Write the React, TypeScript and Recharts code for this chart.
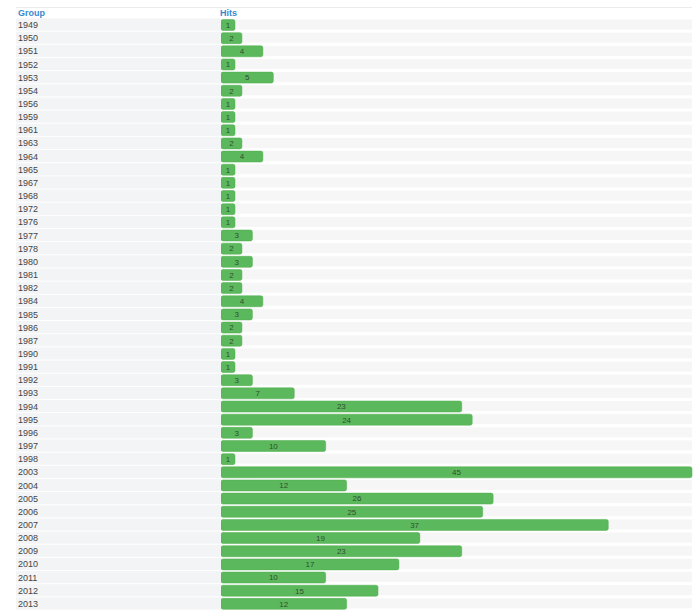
import * as React from "react"
import { BarChart, Bar, XAxis, YAxis, LabelList } from "recharts"

const years = [
  "1949", "1950", "1951", "1952", "1953", "1954", "1956", "1959", "1961", "1963",
  "1964", "1965", "1967", "1968", "1972", "1976", "1977", "1978", "1980", "1981",
  "1982", "1984", "1985", "1986", "1987", "1990", "1991", "1992", "1993", "1994",
  "1995", "1996", "1997", "1998", "2003", "2004", "2005", "2006", "2007", "2008",
  "2009", "2010", "2011", "2012", "2013",
]

const hits = [
  1, 2, 4, 1, 5, 2, 1, 1, 1, 2,
  4, 1, 1, 1, 1, 1, 3, 2, 3, 2,
  2, 4, 3, 2, 2, 1, 1, 3, 7, 23,
  24, 3, 10, 1, 45, 12, 26, 25, 37, 19,
  23, 17, 10, 15, 12,
]

const data = years.map((year, i) => ({ year, hits: hits[i] }))

const W = 696
const H = 613
const TOP = 18.5
const BOTTOM = 2.5
const ROW = (H - TOP - BOTTOM) / years.length

const headerStyle: React.CSSProperties = {
  position: "absolute",
  top: 7,
  fontFamily: "Arial, 'Liberation Sans', sans-serif",
  fontSize: 9,
  fontWeight: "bold",
  color: "#3a87d0",
  lineHeight: "12px",
}

function GroupTick(props: any) {
  const { y, payload } = props
  return (
    <g>
      <rect x={16} y={y - ROW / 2} width={205} height={ROW - 1} fill="#f3f4f6" />
      <text
        x={18}
        y={y}
        dy={3}
        textAnchor="start"
        fontSize={9}
        fontFamily="Arial, 'Liberation Sans', sans-serif"
        fill="#444"
      >
        {payload.value}
      </text>
    </g>
  )
}

function RowBg(props: any) {
  const { x, y, width, height } = props
  return <rect x={x} y={y} width={width} height={height - 1} fill="#f6f6f6" />
}

export default function App() {
  return (
    <div style={{ position: "absolute", left: 0, top: 0, width: W, height: H, background: "#fff" }}>
      <div style={{ position: "absolute", left: 16, top: 7, width: 676, height: 1, background: "#ececec" }} />
      <div style={{ ...headerStyle, left: 18 }}>Group</div>
      <div style={{ ...headerStyle, left: 220 }}>Hits</div>
      <BarChart
        width={W}
        height={H}
        data={data}
        layout="vertical"
        margin={{ top: TOP, right: 4, bottom: BOTTOM, left: 16 }}
        barSize={11}
        style={{ position: "absolute", left: 0, top: 0 }}
      >
        <XAxis type="number" domain={[0, 45]} hide />
        <YAxis
          type="category"
          dataKey="year"
          width={205}
          axisLine={false}
          tickLine={false}
          tick={<GroupTick />}
          interval={0}
        />
        <Bar
          dataKey="hits"
          fill="#5cb85c"
          stroke="#4cae4c"
          strokeWidth={0.5}
          radius={2}
          minPointSize={14}
          background={<RowBg />}
          isAnimationActive={false}
        >
          <LabelList
            dataKey="hits"
            position="center"
            fill="#2f4f2f"
            fontSize={8}
            fontFamily="Arial, 'Liberation Sans', sans-serif"
          />
        </Bar>
      </BarChart>
    </div>
  )
}
